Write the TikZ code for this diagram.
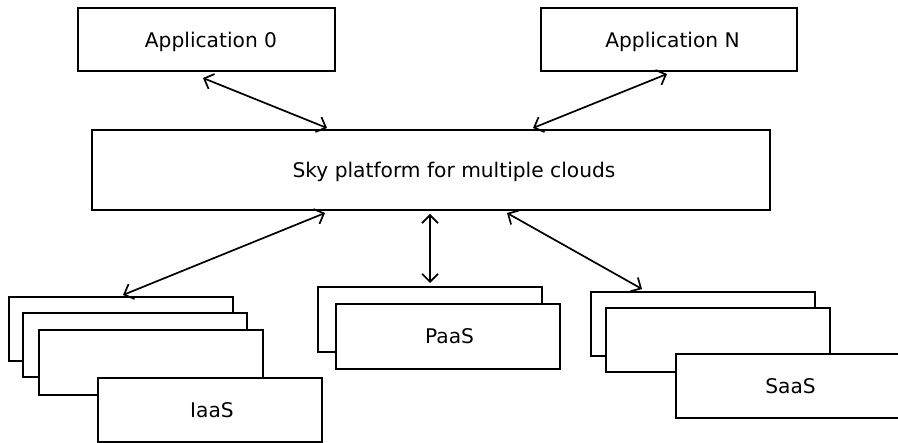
\documentclass[tikz,border=0pt]{standalone}
\usepackage{fontspec}
\setmainfont{DejaVu Sans}
\usetikzlibrary{arrows.meta,calc}
\tikzset{
  box/.style={draw, fill=white, line width=2pt, inner sep=0pt, outer sep=0pt,
    minimum width=224pt, minimum height=64pt, font=\fontsize{20.2}{24}\selectfont},
  nodepth/.style={text depth=0pt},
  arr/.style={line width=1.7pt, {Straight Barb[length=8pt,width=16pt]}-{Straight Barb[length=8pt,width=16pt]}}
}
\begin{document}
\begin{tikzpicture}[x=1pt,y=-1pt]
\useasboundingbox (0,0) rectangle (898,443);
\clip (0,0) rectangle (898,443);
\node[box, nodepth, minimum width=257pt, minimum height=63pt] (app0) at (206.5,39.5) {\hspace*{9pt}Application 0};
\node[box, nodepth, minimum width=256pt, minimum height=63pt] (appN) at (669,39.5) {\hspace*{7pt}Application N};
\node[box, nodepth, minimum width=678pt, minimum height=80pt] (sky) at (431,170) {\hspace*{46pt}Sky platform for multiple clouds};
% IaaS stack
\node[box] (iaas1) at (120.5,329) {};
\node[box] (iaas2) at (134.5,345) {};
\node[box, minimum height=65pt] (iaas3) at (150.5,362.5) {};
\node[box] (iaas4) at (210,410) {\hspace*{4pt}IaaS};
% PaaS stack
\node[box, minimum height=65pt] (paas1) at (430,319.5) {};
\node[box, minimum height=65pt] (paas2) at (448,336.5) {\hspace*{3pt}PaaS};
% SaaS stack
\node[box] (saas1) at (702.5,324) {};
\node[box] (saas2) at (717.5,340) {};
\node[box] (saas3) at (787.5,386) {\hspace*{6pt}SaaS};
% connectors
\draw[arr] ($(app0.south)+(-3.5,7)$) -- ($(sky.north)+(-104,-2)$);
\draw[arr] ($(appN.south)+(-2,3)$) -- ($(sky.north)+(102,-2)$);
\draw[arr] ($(sky.south)+(-106,3)$) -- ($(iaas1.north)+(2.5,-2)$);
\draw[arr] ($(sky.south)+(-1,4)$) -- ($(paas1.north)+(0,-4)$);
\draw[arr] ($(sky.south)+(76,3)$) -- ($(saas1.north)+(-60.5,-3)$);
\end{tikzpicture}
\end{document}
